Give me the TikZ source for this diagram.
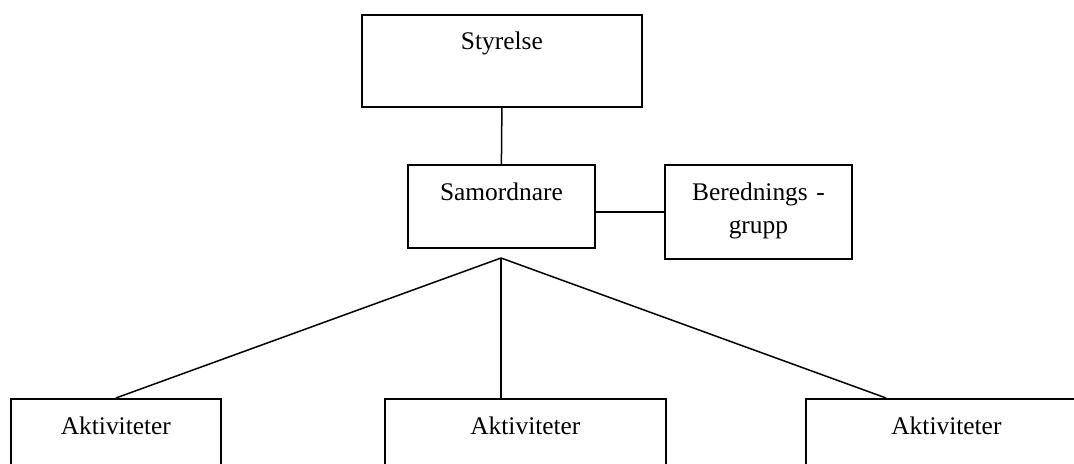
\documentclass[tikz,border=0pt]{standalone}
\usepackage{fontspec}
\setmainfont{Liberation Serif}
\usetikzlibrary{calc}

\begin{document}
\begin{tikzpicture}[x=0.5pt,y=-0.5pt,
	box/.style={draw,line width=0.9pt,anchor=north west,inner sep=0pt,align=center,
		font=\fontsize{12.7}{16.5}\selectfont,text height=18pt},
	link/.style={line width=0.75pt}]
	  \useasboundingbox (0,0) rectangle (1074,464);
	  \clip (0,0) rectangle (1074,464);
	  \node[box,text width=140pt,text height=17.5pt,text depth=28.5pt] (styr) at (361,14) {Styrelse};
	  \node[box,text width=93.5pt,text depth=23.5pt] (samo) at (407,164) {Samordnare};
	  \node[box,text width=93.5pt,text depth=29pt] (bered) at (664,164) {Berednings -\\grupp};
	  \foreach \n/\x/\w in {1/10/105pt,2/384/140.5pt,3/805/140.5pt}{
		\node[box,text width=\w,text depth=50pt] (akt\n) at (\x,398) {Aktiviteter};
	  }
	  \coordinate (hub) at (501,258);

	  \draw[link] (styr.south) -- (samo.north);
	  \draw[link,line width=0.9pt] (bered.west -| samo.east) -- (bered.west);
	  \draw[link] (hub) -- (akt1.north);
	  \draw[link] (hub) -- (hub |- akt2.north);
	  \draw[link] (hub) -- ($(akt3.north west)+(81,0)$);
	\end{tikzpicture}
\end{document}
